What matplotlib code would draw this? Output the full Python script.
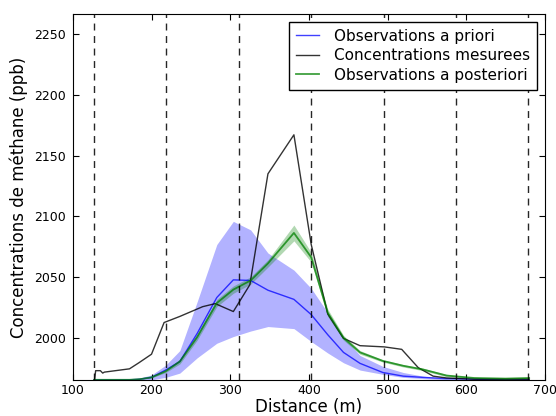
import matplotlib
matplotlib.use('Agg')
import matplotlib.pyplot as plt

# distance grid of the model output (m)
dist = [127, 150, 172, 185, 200, 218, 236, 258, 283, 304, 326, 348,
        381, 403, 424, 444, 465, 494, 520, 545, 575, 610, 650, 680]
prior = [1966, 1966, 1966, 1966.5, 1968, 1974, 1981, 2004, 2033.5, 2048, 2047.5, 2039.5,
         2032, 2019.5, 2003, 1988.5, 1979.5, 1972, 1969, 1968, 1967, 1966.5, 1966, 1966]
prior_hi = [1966, 1966, 1966, 1967.5, 1970, 1978, 1990, 2030, 2077, 2096, 2089, 2070,
            2056, 2041, 2021, 2001, 1986, 1977, 1972, 1969, 1967, 1966, 1966, 1966]
prior_lo = [1966, 1966, 1966, 1966, 1966, 1968, 1971.5, 1984, 1996, 2001.5, 2006, 2009.7,
            2008, 1997.4, 1988, 1980, 1974, 1970.5, 1968, 1967, 1966, 1966, 1966, 1966]
post = [1966, 1966, 1966, 1966.5, 1968, 1973, 1981, 2001, 2029, 2040, 2047.5, 2061.5,
        2086.5, 2066.5, 2021, 2000.5, 1988.5, 1981.5, 1977.5, 1974.5, 1969.5, 1967.5, 1967, 1967.5]
post_err = [0, 0, 0, 0, 0.5, 1, 2, 2.5, 3, 3, 3, 3,
            6.5, 4, 3, 2, 1.5, 1, 1, 1, 1, 0.5, 0.5, 0.5]

# measured concentrations
dist_obs = [127, 129, 135, 138, 140, 172, 184, 200, 216, 236, 265, 281, 304, 325,
            348, 381, 403, 424, 444, 465, 496, 518, 539, 558, 575, 610, 680]
conc_obs = [1962, 1973.5, 1973.5, 1971.5, 1972.3, 1975, 1980, 1987, 2013, 2018, 2026, 2028.5,
            2022, 2044, 2135, 2167, 2077, 2020, 2000, 1994, 1993, 1991, 1976, 1969,
            1967.5, 1966.5, 1966.5]

# positions of the vertical dashed lines (m)
sections = [127, 219, 311, 403, 495, 587, 679]

fig = plt.figure(figsize=(5.56, 4.16), dpi=100)
ax = fig.add_axes([0.131, 0.087, 0.849, 0.879])

post_hi = [p + e for p, e in zip(post, post_err)]
post_lo = [p - e for p, e in zip(post, post_err)]
ax.fill_between(dist, prior_lo, prior_hi, color='b', alpha=0.3, lw=0)
ax.fill_between(dist, post_lo, post_hi, color='g', alpha=0.3, lw=0)
ax.plot(dist, prior, color='b', alpha=0.75, lw=1, label='Observations a priori')
ax.plot(dist_obs, conc_obs, color='k', alpha=0.8, lw=1, label='Concentrations mesurees')
ax.plot(dist, post, color='g', alpha=0.75, lw=1.3, label='Observations a posteriori')
for s in sections:
    ax.axvline(s, color='k', ls='--', lw=1, dashes=(5, 4), alpha=0.85)

ax.set_xlim(100, 700)
ax.set_ylim(1966, 2266)
ax.set_yticks([2000, 2050, 2100, 2150, 2200, 2250])
ax.tick_params(direction='in', top=True, right=True, labelsize=9, length=4)
ax.tick_params(axis='x', pad=3)
ax.tick_params(axis='y', pad=5)
ax.set_xlabel('Distance (m)', fontsize=12, labelpad=1)
ax.set_ylabel('Concentrations de méthane (ppb)', fontsize=12)

leg = ax.legend(loc='upper right', fontsize=11, fancybox=False, framealpha=1,
                edgecolor='k', handlelength=1.5, handletextpad=1.0, borderpad=0.45,
                labelspacing=0.3, borderaxespad=0.5)
leg.get_frame().set_linewidth(1)

fig.savefig('out.png', dpi=100)
